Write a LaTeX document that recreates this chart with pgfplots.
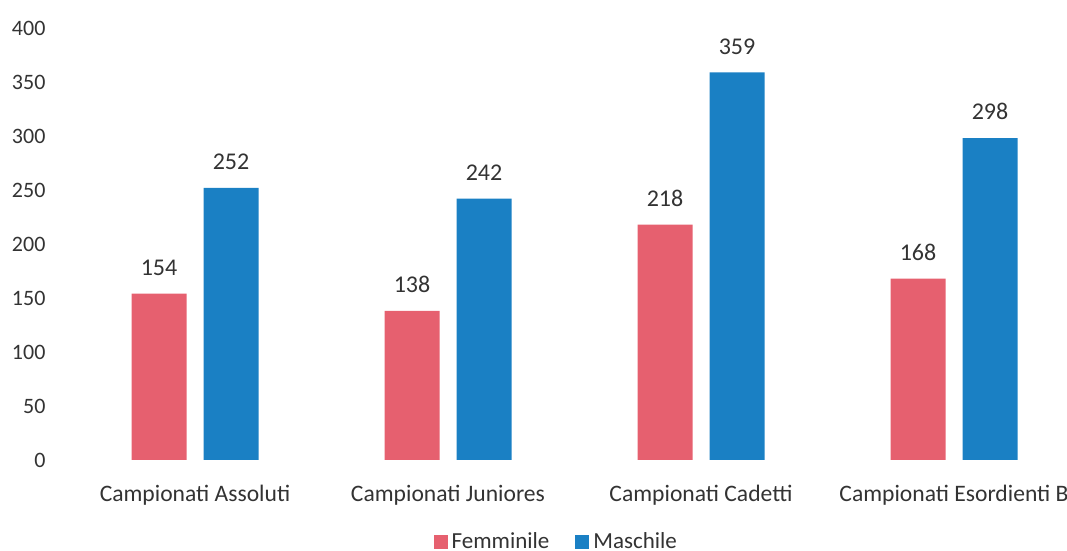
\documentclass[border=0pt]{standalone}
\usepackage{pgfplots}
\pgfplotsset{compat=1.18}
\usepackage{fontspec}
\setmainfont{Carlito}
\definecolor{fem}{HTML}{E6606F}
\definecolor{mas}{HTML}{1A80C4}
\definecolor{txt}{HTML}{333333}
\begin{document}
\begin{tikzpicture}
\begin{axis}[
  at={(34.25pt,45.5pt)}, anchor=south west,
  scale only axis, width=506pt, height=216pt,
  xmin=-0.5, xmax=3.5, ymin=0, ymax=400,
  ybar, bar width=27.5pt,
  axis line style={draw=none},
  major tick length=0pt,
  xtick={0,1,2,3},
  xticklabels={Campionati Assoluti,Campionati Juniores,Campionati Cadetti,Campionati Esordienti B},
  ytick={0,50,...,400},
  /pgf/number format/assume math mode=true,
  tick label style={font=\fontsize{11}{13}\selectfont, text=txt},
  xticklabel style={font=\fontsize{11.8}{13}\selectfont, yshift=-9pt},
  yticklabel style={xshift=-8pt},
  nodes near coords,
  every node near coord/.append style={font=\fontsize{12}{14}\selectfont, text=txt, yshift=5.5pt},
  legend style={at={(0.483,-0.189)}, anchor=center, draw=none, legend columns=2,
    font=\fontsize{11.5}{13}\selectfont, text=txt,
    /tikz/every even column/.append style={column sep=11pt}},
  legend image code/.code={\fill[#1] (0pt,-3.5pt) rectangle (7pt,3.5pt);},
  clip=false,
]
\addplot[fill=fem, draw=none, bar shift=-18pt] coordinates {(0,154) (1,138) (2,218) (3,168)};
\addplot[fill=mas, draw=none, bar shift=18pt] coordinates {(0,252) (1,242) (2,359) (3,298)};
\legend{Femminile,Maschile}
\end{axis}
\pgfresetboundingbox
\path[use as bounding box] (0,0) rectangle (533.5pt,275.5pt);
\end{tikzpicture}
\end{document}
